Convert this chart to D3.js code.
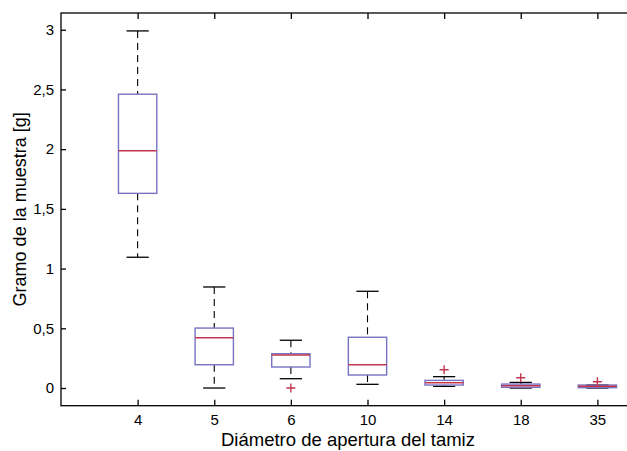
<!DOCTYPE html>
<html>
<head>
<meta charset="utf-8">
<script src="https://cdn.jsdelivr.net/npm/d3@7"></script>
<style>
  html, body { margin: 0; padding: 0; background: #fff; overflow: hidden; }
  svg { display: block; font-family: "Liberation Sans", Arial, Helvetica, sans-serif; }
</style>
</head>
<body>
<svg id="chart" width="627" height="451"></svg>
<script>
// ---- data ----
const categories = ["4", "5", "6", "10", "14", "18", "35"];
const lowerWhisker = [1.095, 0.0, 0.078, 0.031, 0.014, 0.0, 0.0];
const q1 = [1.63, 0.195, 0.176, 0.109, 0.025, 0.006, 0.003];
const median = [1.987, 0.421, 0.276, 0.195, 0.045, 0.020, 0.014];
const q3 = [2.46, 0.502, 0.287, 0.425, 0.064, 0.033, 0.025];
const upperWhisker = [2.99, 0.846, 0.40, 0.81, 0.095, 0.047, 0.025];
const outliers = [[], [], [0.0], [], [0.153], [0.086], [0.052]];
const yTicks = [0, 0.5, 1, 1.5, 2, 2.5, 3];
const xTitle = "Diámetro de apertura del tamiz";
const yTitle = "Gramo de la muestra [g]";

// ---- layout ----
const mLeft = 61, mTop = 13, mRight = 674, mBottom = 405.7;
const svg = d3.select("#chart");
const x = d3.scalePoint().domain(categories).range([mLeft, mRight]).padding(1);
const y = d3.scaleLinear().domain([-0.148, 3.14]).range([mBottom, mTop]);
const locale = d3.formatLocale({decimal: ",", thousands: ".", grouping: [3], currency: ["", ""]});
const fmt = v => locale.format("~g")(v);

const boxColor = "#7773c2";
const medColor = "#c2374f";
const boxW = x.step() * 0.5;
const capW = x.step() * 0.29;

const data = categories.map((c, i) => ({
  c, lo: lowerWhisker[i], q1: q1[i], med: median[i], q3: q3[i], hi: upperWhisker[i], out: outliers[i]
}));

const g = svg.append("g");
const items = g.selectAll("g.box").data(data).join("g").attr("class", "box");

// whiskers (dashed)
items.append("line")
  .attr("x1", d => x(d.c)).attr("x2", d => x(d.c))
  .attr("y1", d => y(d.hi)).attr("y2", d => y(d.q3))
  .attr("stroke", "#000").attr("stroke-width", 1.1).attr("stroke-dasharray", "7,5");
items.append("line")
  .attr("x1", d => x(d.c)).attr("x2", d => x(d.c))
  .attr("y1", d => y(d.q1)).attr("y2", d => y(d.lo))
  .attr("stroke", "#000").attr("stroke-width", 1.1).attr("stroke-dasharray", "7,5");
// caps
items.append("line")
  .attr("x1", d => x(d.c) - capW / 2).attr("x2", d => x(d.c) + capW / 2)
  .attr("y1", d => y(d.hi)).attr("y2", d => y(d.hi))
  .attr("stroke", "#000").attr("stroke-width", 1.3);
items.append("line")
  .attr("x1", d => x(d.c) - capW / 2).attr("x2", d => x(d.c) + capW / 2)
  .attr("y1", d => y(d.lo)).attr("y2", d => y(d.lo))
  .attr("stroke", "#000").attr("stroke-width", 1.3);
// box
items.append("rect")
  .attr("x", d => x(d.c) - boxW / 2).attr("width", boxW)
  .attr("y", d => y(d.q3)).attr("height", d => y(d.q1) - y(d.q3))
  .attr("fill", "none").attr("stroke", boxColor).attr("stroke-width", 1.4);
// median
items.append("line")
  .attr("x1", d => x(d.c) - boxW / 2).attr("x2", d => x(d.c) + boxW / 2)
  .attr("y1", d => y(d.med)).attr("y2", d => y(d.med))
  .attr("stroke", medColor).attr("stroke-width", 1.5);
// outliers
items.each(function(d) {
  const sel = d3.select(this);
  d.out.forEach(v => {
    const cx = x(d.c), cy = y(v), s = 4.5;
    sel.append("path")
      .attr("d", `M${cx - s},${cy}H${cx + s}M${cx},${cy - s}V${cy + s}`)
      .attr("stroke", medColor).attr("stroke-width", 1.4).attr("fill", "none");
  });
});

// ---- axes ----
svg.append("rect")
  .attr("x", mLeft).attr("y", mTop).attr("width", mRight - mLeft).attr("height", mBottom - mTop)
  .attr("fill", "none").attr("stroke", "#000").attr("stroke-width", 1.3);

const xb = svg.append("g").attr("transform", `translate(0,${mBottom})`)
  .call(d3.axisBottom(x).tickSizeInner(-6).tickSizeOuter(0).tickPadding(9));
const xt = svg.append("g").attr("transform", `translate(0,${mTop})`)
  .call(d3.axisTop(x).tickSizeInner(-6).tickSizeOuter(0).tickFormat(""));
const yl = svg.append("g").attr("transform", `translate(${mLeft},0)`)
  .call(d3.axisLeft(y).tickValues(yTicks).tickFormat(fmt).tickSizeInner(-5).tickSizeOuter(0).tickPadding(7));
[xb, xt, yl].forEach(a => {
  a.select(".domain").remove();
  a.selectAll(".tick line").attr("stroke", "#000").attr("stroke-width", 1.3);
  a.selectAll(".tick text").attr("font-size", 15).attr("fill", "#000")
    .attr("font-family", "'Liberation Sans', Arial, sans-serif");
});

// titles
svg.append("text")
  .attr("x", 348).attr("y", 446)
  .attr("text-anchor", "middle").attr("font-size", 18.5).attr("fill", "#000")
  .text(xTitle);
svg.append("text")
  .attr("transform", `translate(26,${(mTop + mBottom) / 2}) rotate(-90)`)
  .attr("text-anchor", "middle").attr("font-size", 18).attr("fill", "#000")
  .text(yTitle);
</script>
</body>
</html>
